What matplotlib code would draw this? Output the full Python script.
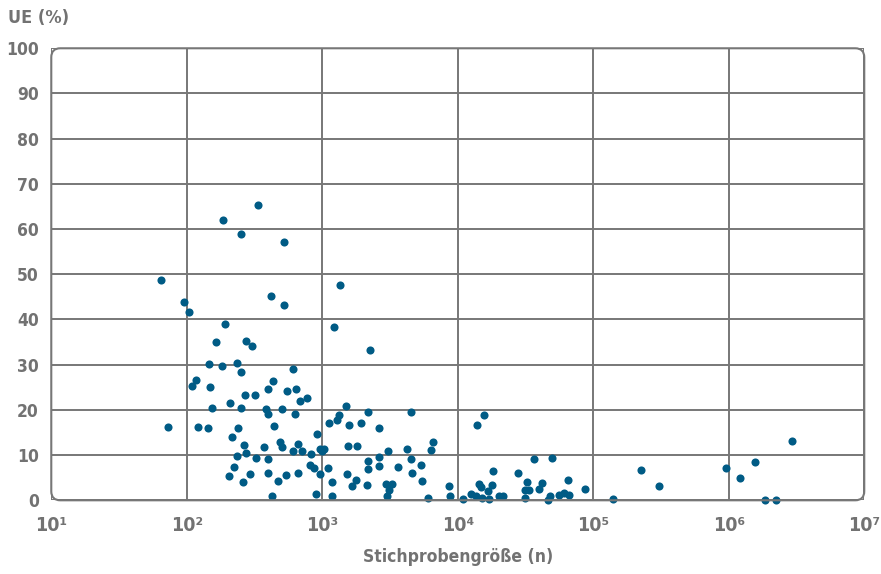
import matplotlib
matplotlib.use("Agg")
import matplotlib.pyplot as plt
from matplotlib.patches import FancyBboxPatch
from matplotlib.transforms import IdentityTransform
from matplotlib.ticker import FixedLocator, FixedFormatter
import numpy as np

FAM = ['DejaVu Sans']
plt.rcParams['font.family'] = FAM
plt.rcParams['font.stretch'] = 'condensed'
plt.rcParams['font.weight'] = 'bold'

# Sample size (n)
sample_n = [
    184, 251, 334, 522, 64, 95, 104, 1352, 421, 522,
    1227, 191, 164, 275, 303, 2261, 145, 182, 234, 251,
    116, 110, 149, 605, 435, 395, 552, 645, 267, 321,
    208, 154, 251, 687, 774, 1503, 382, 399, 506, 625,
    1328, 1283, 1114, 2174, 4515, 1582, 1920, 2620, 73, 122,
    143, 237, 444, 214, 922, 486, 502, 265, 371, 667,
    608, 706, 828, 962, 1030, 995, 1553, 1804, 3040, 4238,
    6530, 6310, 275, 235, 322, 397, 2157, 2620, 4530, 814,
    876, 224, 1111, 2157, 2612, 3631, 5383, 205, 293, 397,
    537, 662, 957, 1514, 4614, 1778, 260, 473, 1186, 1648,
    2128, 2951, 3243, 3097, 5445, 422, 899, 1180, 3000, 6081,
    8570, 8750, 10920, 15600, 13930, 18100, 27800, 36500, 49550, 14450,
    14760, 18030, 12620, 13580, 15210, 16760, 17140, 20040, 21630, 32430,
    31600, 33350, 31330, 42070, 39920, 65030, 46560, 48310, 55980, 61090,
    66370, 86900, 139700, 225000, 306900, 948700, 1211000, 1570000, 2925000, 1841000,
    2229000,
]
# UE (%)
ue_pct = [
    61.9, 59.0, 65.4, 57.2, 48.7, 43.8, 41.7, 47.6, 45.2, 43.2,
    38.3, 38.9, 35.0, 35.3, 34.1, 33.2, 30.1, 29.8, 30.4, 28.3,
    26.7, 25.2, 25.0, 29.0, 26.3, 24.6, 24.2, 24.6, 23.4, 23.3,
    21.6, 20.4, 20.4, 21.9, 22.7, 20.9, 20.2, 19.1, 20.2, 19.1,
    18.9, 17.8, 17.0, 19.5, 19.5, 16.7, 17.2, 16.1, 16.3, 16.3,
    16.1, 16.1, 16.4, 14.1, 14.7, 13.0, 11.9, 12.3, 11.9, 12.4,
    10.8, 10.8, 10.2, 11.3, 11.3, 11.0, 12.0, 12.0, 10.9, 11.3,
    13.0, 11.2, 10.5, 9.8, 9.4, 9.1, 8.7, 9.5, 9.2, 7.8,
    7.1, 7.4, 7.1, 6.9, 7.5, 7.4, 7.7, 5.4, 5.8, 6.1,
    5.7, 6.0, 5.8, 5.8, 6.1, 4.4, 4.1, 4.3, 4.1, 3.2,
    3.3, 3.5, 3.5, 2.3, 4.3, 0.9, 1.3, 1.0, 1.0, 0.5,
    3.2, 1.0, 0.2, 18.8, 16.7, 6.4, 6.1, 9.1, 9.4, 3.6,
    3.0, 3.3, 1.5, 0.9, 0.6, 2.0, 0.2, 0.9, 0.9, 4.1,
    2.3, 2.2, 0.4, 3.9, 2.6, 4.6, 0.1, 1.0, 1.2, 1.6,
    1.2, 2.6, 0.2, 6.7, 3.2, 7.1, 5.0, 8.4, 13.2, 0.1,
    0.1,
]

x_ticks = [1e1, 1e2, 1e3, 1e4, 1e5, 1e6, 1e7]
x_labels = ['10¹', '10²', '10³', '10⁴', '10⁵', '10⁶', '10⁷']
y_ticks = [0, 10, 20, 30, 40, 50, 60, 70, 80, 90, 100]
y_title = 'UE (%)'
x_title = 'Stichprobengröße (n)'

TXT = '#727272'
GRID = '#777777'
DOT = '#005b85'

fig = plt.figure(figsize=(8.81, 5.74), dpi=100)
ax = fig.add_axes([0.0582, 0.1284, 0.9228, 0.7875])
ax.set_xscale('log')
ax.set_xlim(1e1, 1e7)
ax.set_ylim(0, 100)

ax.xaxis.set_major_locator(FixedLocator(x_ticks))
ax.xaxis.set_major_formatter(FixedFormatter(x_labels))
ax.xaxis.set_minor_locator(FixedLocator([]))
ax.set_yticks(y_ticks)

for s in ax.spines.values():
    s.set_visible(False)

ax.grid(True, which='major', color=GRID, linewidth=1.4)
ax.set_axisbelow(True)
ax.tick_params(axis='both', length=0, colors=TXT, labelsize=12.5)
ax.tick_params(axis='x', pad=11, labelsize=14)
ax.tick_params(axis='y', pad=9)
for lab in ax.get_yticklabels() + ax.get_xticklabels():
    lab.set_fontweight('bold')
    lab.set_fontstretch('condensed')

ax.scatter(sample_n, ue_pct, s=34, color=DOT, linewidths=0, zorder=3, clip_on=False)

ax.set_xlabel(x_title, fontsize=12.5, fontweight='bold', fontstretch='condensed',
              color=TXT, labelpad=10)
fig.text(0.009, 0.968, y_title, fontsize=13, fontweight='bold', fontstretch='condensed',
         color=TXT, ha='left', va='center')

fig.canvas.draw()
bb = ax.bbox
frame = FancyBboxPatch((bb.x0, bb.y0), bb.width, bb.height,
                       boxstyle='round,pad=0,rounding_size=9',
                       transform=IdentityTransform(), fill=False,
                       edgecolor=GRID, linewidth=1.5, zorder=4)
fig.patches.append(frame)
frame.set_figure(fig)

fig.savefig('out.png', dpi=100)
